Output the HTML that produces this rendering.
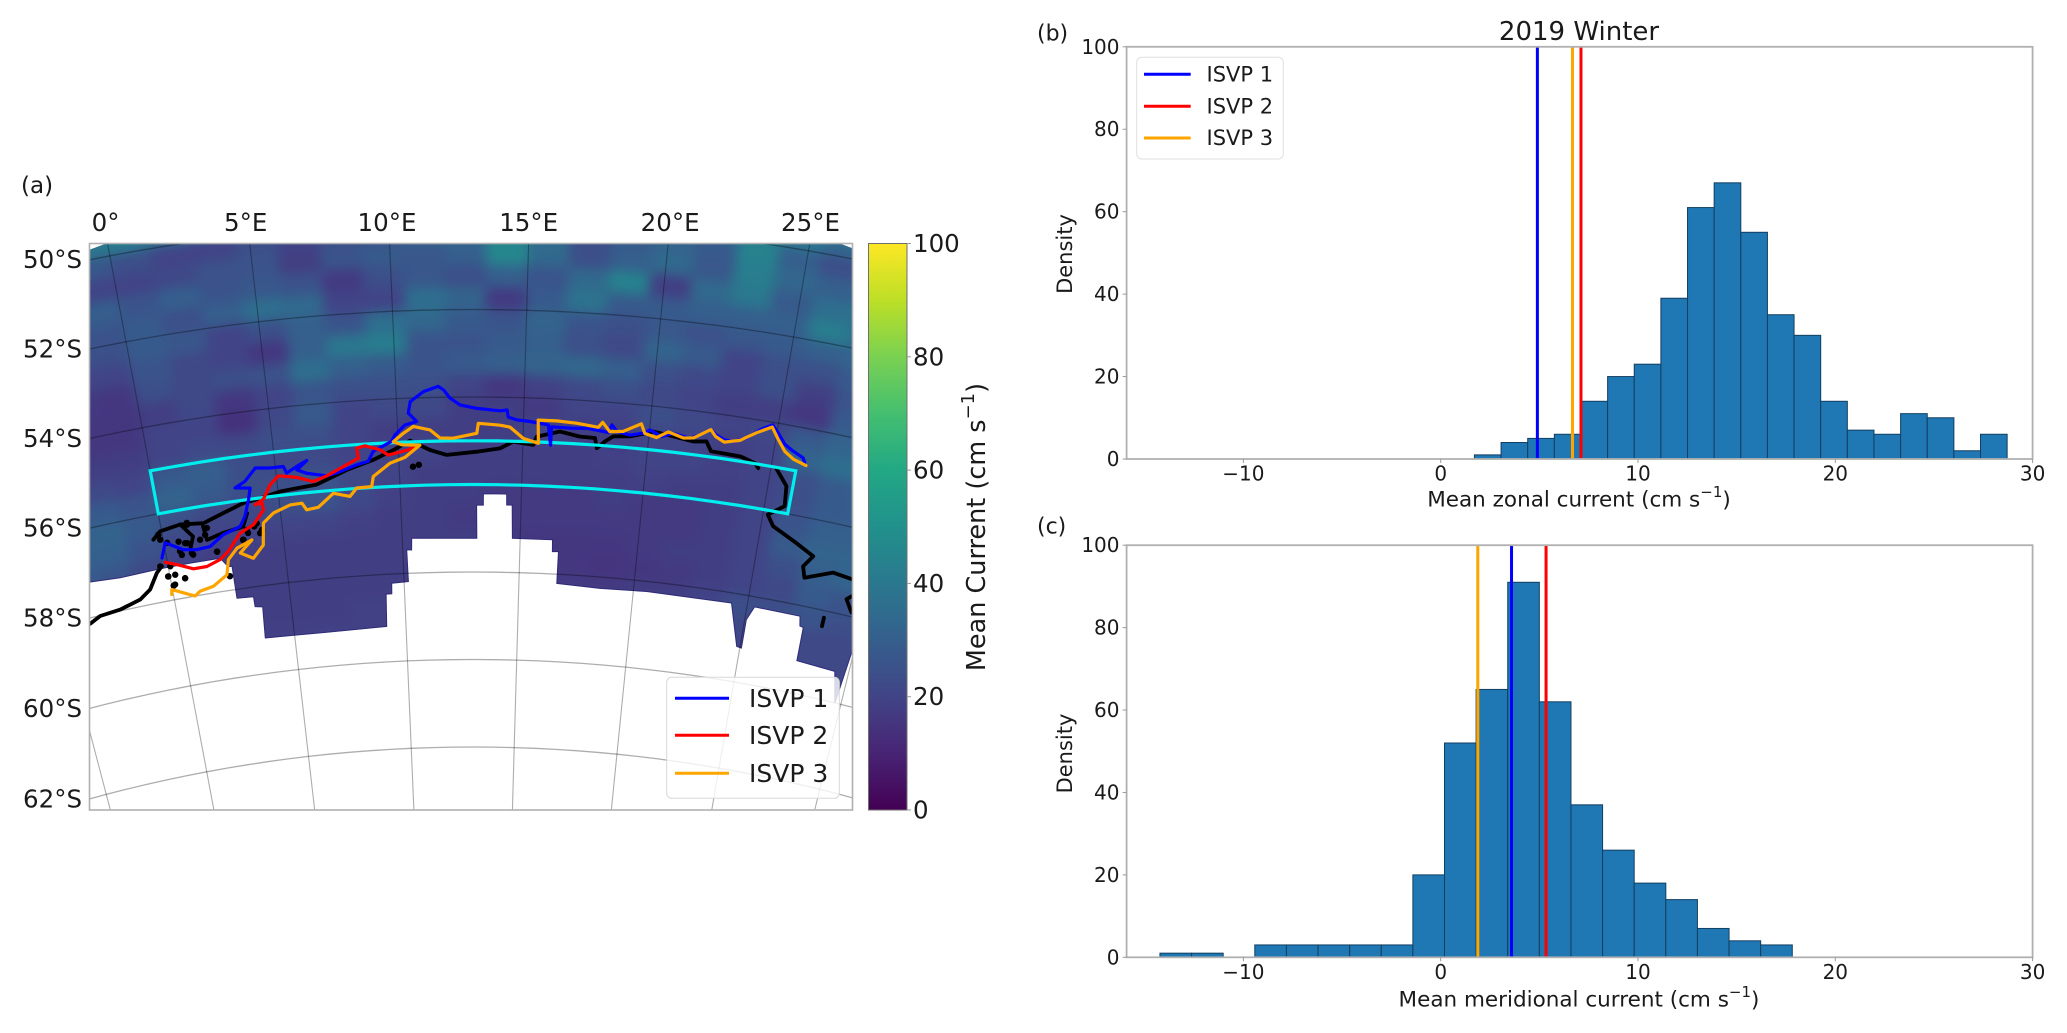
<!DOCTYPE html>
<html lang="en">
<head>
<meta charset="utf-8">
<title>2019 Winter mean currents</title>
<style>
html,body{margin:0;padding:0;background:#fff;}
svg{display:block;font-family:"DejaVu Sans","Liberation Sans",sans-serif;fill:#1a1a1a;}
</style>
</head>
<body>
<svg id="fig" xmlns="http://www.w3.org/2000/svg" width="2067" height="1033" viewBox="0 0 2067 1033">
<defs>
  <clipPath id="mapClip"><rect x="89.5" y="243.5" width="763" height="566.5"/></clipPath>
  <filter id="soft" x="-5%" y="-5%" width="110%" height="110%" color-interpolation-filters="sRGB"><feGaussianBlur stdDeviation="6"/></filter>
  <linearGradient id="viridisGrad" x1="0" y1="1" x2="0" y2="0"></linearGradient>
</defs>
<rect x="0" y="0" width="2067" height="1033" fill="#fff"/>

<!-- Panel a -->
<text x="21" y="186" font-size="23" dominant-baseline="central">(a)</text>
<g clip-path="url(#mapClip)">
  <g id="heat" filter="url(#soft)"></g>
  <g id="land"></g>
  <g id="grat"></g>
  <g id="tracks"></g>
</g>
<rect x="89.5" y="243.5" width="763" height="566.5" fill="none" stroke="#b0b0b0" stroke-width="1.6"/>
<g id="mapLabels" font-size="24.5"></g>
<g>
  <rect x="666.7" y="677.3" width="172.6" height="121" rx="5" fill="#fff" fill-opacity="0.8" stroke="#d8d8d8" stroke-width="1"/>
  <line x1="675" x2="729" y1="698.3" y2="698.3" stroke="#0000ff" stroke-width="3"/>
  <line x1="675" x2="729" y1="735.3" y2="735.3" stroke="#ff0000" stroke-width="3"/>
  <line x1="675" x2="729" y1="773.3" y2="773.3" stroke="#ffa500" stroke-width="3"/>
  <text x="749" y="698.3" font-size="25" dominant-baseline="central">ISVP 1</text>
  <text x="749" y="735.3" font-size="25" dominant-baseline="central">ISVP 2</text>
  <text x="749" y="773.3" font-size="25" dominant-baseline="central">ISVP 3</text>
</g>
<rect x="868.5" y="243.5" width="38.5" height="566.5" fill="url(#viridisGrad)" stroke="#6f6f6f" stroke-width="1"/>
<g id="cbTicks" font-size="24.5"></g>
<text transform="translate(977 527) rotate(-90)" font-size="25.5" text-anchor="middle" dominant-baseline="central">Mean Current (cm s<tspan dy="-9" font-size="18">−1</tspan><tspan dy="9">)</tspan></text>

<!-- Panel b -->
<text x="1037" y="34" font-size="22" dominant-baseline="central">(b)</text>
<text x="1579" y="32" font-size="26" text-anchor="middle" dominant-baseline="central">2019 Winter</text>
<g id="histB"></g>
<text x="1579" y="500" font-size="21.5" text-anchor="middle" dominant-baseline="central">Mean zonal current (cm s<tspan dy="-8" font-size="15">−1</tspan><tspan dy="8">)</tspan></text>
<text transform="translate(1065 254) rotate(-90)" font-size="21" text-anchor="middle" dominant-baseline="central">Density</text>
<g>
  <rect x="1136.7" y="57.3" width="146.6" height="101.7" rx="5" fill="#fff" fill-opacity="0.8" stroke="#e0e0e0" stroke-width="1"/>
  <line x1="1144" x2="1190.7" y1="74.3" y2="74.3" stroke="#0000ff" stroke-width="3"/>
  <line x1="1144" x2="1190.7" y1="106.3" y2="106.3" stroke="#ff0000" stroke-width="3"/>
  <line x1="1144" x2="1190.7" y1="138" y2="138" stroke="#ffa500" stroke-width="3"/>
  <text x="1206.5" y="74.3" font-size="21" dominant-baseline="central">ISVP 1</text>
  <text x="1206.5" y="106.3" font-size="21" dominant-baseline="central">ISVP 2</text>
  <text x="1206.5" y="138" font-size="21" dominant-baseline="central">ISVP 3</text>
</g>

<!-- Panel c -->
<text x="1037" y="527" font-size="22" dominant-baseline="central">(c)</text>
<g id="histC"></g>
<text x="1579" y="1000" font-size="21.5" text-anchor="middle" dominant-baseline="central">Mean meridional current (cm s<tspan dy="-8" font-size="15">−1</tspan><tspan dy="8">)</tspan></text>
<text transform="translate(1065 753.5) rotate(-90)" font-size="21" text-anchor="middle" dominant-baseline="central">Density</text>
</svg>

<script>
/* ---------- histogram data ---------- */
const zonalCounts = [1,4,5,6,14,20,23,39,61,67,55,35,30,14,7,6,11,10,2,6];
const zonalBinStart = 1.71;
const zonalBinWidth = 1.35;
const zonalMeans = [4.9,7.11,6.68];
const meridionalCounts = [1,1,0,3,3,3,3,3,20,52,65,91,62,37,26,18,14,7,4,3];
const meridionalBinStart = -14.23;
const meridionalBinWidth = 1.6025;
const meridionalMeans = [3.59,5.34,1.88];
const isvpNames = ['isvp-1','isvp-2','isvp-3'];
const isvpColors = ['#0000ff','#ff0000','#ffa500'];
const xTickValues = [-10,0,10,20,30];
const xTickLabels = ['−10','0','10','20','30'];
const yTickValues = [0,20,40,60,80,100];

/* ---------- map data ---------- */
const lonTicks = [0,5,10,15,20,25];
const lonTickLabels = ['0°','5°E','10°E','15°E','20°E','25°E'];
const latTicks = [50,52,54,56,58,60,62];
const latTickLabels = ['50°S','52°S','54°S','56°S','58°S','60°S','62°S'];
const graticuleLons = [-5,0,5,10,15,20,25,30];
const graticuleLats = [50,52,54,56,58,60,62];
const colorbarTicks = [0,20,40,60,80,100];
const viridisStops = ['#440154','#482475','#414487','#355f8d','#2a788e','#21918c','#22a884','#44bf70','#7ad151','#bddf26','#fde725'];

const heatLonStart = -4.5, heatLonStep = 1.5, heatLatStart = 49, heatLatStep = 0.5;
const currentGrid = [
[40,40,42,44,40,32,30,32,30,30,38,44,46,40,35,35,38,40,42,40,36,38,38,38],
[40,40,40,42,38,30,30,32,30,30,38,44,46,40,35,35,38,40,42,40,34,38,38,38],
[32,30,27,24,20,20,24,20,24,26,32,34,46,36,24,28,32,28,44,30,24,30,32,32],
[24,22,20,20,22,25,26,18,26,28,27,30,46,34,24,30,34,27,42,33,30,35,35,35],
[30,30,30,26,30,26,27,25,17,24,27,24,30,26,34,44,18,34,40,28,36,38,38,38],
[24,26,26,28,24,30,36,34,20,20,36,32,17,28,38,28,28,30,30,30,42,36,36,36],
[24,24,24,28,27,20,24,30,26,36,33,28,26,32,26,24,27,25,27,28,30,32,32,32],
[20,20,20,26,22,20,16,30,40,42,26,26,28,30,24,22,32,28,20,24,24,28,28,28],
[17,17,16,24,22,24,25,36,30,28,26,28,30,32,33,30,24,22,20,24,18,26,28,28],
[16,16,16,18,22,16,20,26,24,24,24,20,16,19,22,24,22,20,18,18,16,28,30,30],
[16,16,16,20,20,14,22,28,20,22,22,18,18,17,20,20,24,22,20,22,28,32,34,34],
[18,18,18,20,22,22,24,24,20,18,18,18,18,20,18,18,20,20,18,20,32,36,36,36],
[22,22,20,28,30,24,22,22,20,20,20,18,18,18,18,19,20,20,19,20,24,28,32,32],
[28,28,26,32,28,24,24,26,22,20,18,18,18,18,18,18,19,18,18,20,24,28,30,30],
[30,32,28,24,22,22,24,26,22,19,18,18,17,17,17,18,17,17,18,20,26,30,30,30],
[30,30,26,22,20,20,20,20,19,18,18,17,17,17,17,17,17,17,18,20,28,32,32,32],
[28,26,22,20,18,18,18,18,18,18,18,18,17,16,16,16,17,18,18,20,24,30,32,32],
[22,22,20,18,18,18,18,18,18,18,18,18,16,16,16,15,16,17,18,20,22,28,26,26],
[20,20,18,18,18,18,18,18,18,18,18,18,18,17,17,17,18,18,20,24,24,26,24,24],
[20,20,18,18,18,18,18,18,19,19,18,18,18,18,18,18,18,18,20,22,22,22,22,22],
[19,19,19,19,19,19,19,19,19,19,19,19,19,19,19,19,19,19,20,20,20,22,22,22],
[19,19,19,19,19,19,19,19,19,19,19,19,19,19,19,19,19,19,20,20,20,22,22,22]
];

const landOutline = [[-3.58,57.19],[-2.09,57.26],[-0.35,57.24],[0.95,57.24],[2.23,57.24],[2.52,57.46],[2.68,57.46],[2.69,58.2],[3.41,58.22],[3.42,58.45],[3.75,58.48],[3.68,59.19],[6.45,59.22],[9.14,59.19],[9.19,58.45],[9.44,58.45],[9.46,58.21],[10.19,58.19],[10.17,57.46],[10.38,57.47],[10.4,57.2],[13.16,57.23],[13.15,56.47],[13.43,56.47],[13.43,56.21],[14.39,56.21],[14.4,56.46],[14.63,56.46],[14.67,57.22],[16.37,57.22],[16.39,57.49],[16.65,57.48],[16.65,58.21],[18.54,58.26],[20.58,58.23],[24.31,58.23],[24.85,59.19],[25.07,59.21],[25.07,58.55],[25.33,58.23],[27.35,58.24],[27.43,58.46],[27.59,58.48],[27.62,59.25],[29.38,59.3],[29.72,60.0],[29.93,58.71],[30.65,58.61],[32.85,62.57],[-6.43,62.63]];
const cornerGapLeft = [[-0.6,49.6],[0.03,49.7],[-0.7,49.78]];
const cornerGapRight = [[26.6,49.6],[25.97,49.7],[26.7,49.78]];

const studyBoxLons = [0,26];
const studyBoxLats = [55,56];

const coastLowerLeft = [[-3.79,58.13],[-3.29,58.01],[-2.38,57.97],[-1.44,57.84],[-0.94,57.66],[-0.52,57.32],[-0.26,57.19]];
const coastMain = [[-0.4,56.56],[-0.06,56.4],[0.81,56.33],[1.77,56.39],[2.65,56.23],[3.52,56.07],[4.24,56.01],[5.08,55.91],[5.78,55.88],[6.6,55.84],[7.87,55.56],[8.97,55.37],[9.8,55.17],[10.48,54.97],[11.27,55.2],[11.94,55.32],[13.15,55.25],[14.08,55.17],[14.61,55.01],[15.42,55.07],[15.54,54.88],[16.46,54.74],[17.27,54.83],[17.87,54.84],[17.97,55.07],[18.28,54.9],[18.6,54.77],[19.26,54.74],[20.17,54.58],[20.97,54.64],[21.79,54.7],[22.3,54.66],[22.53,54.87],[23.73,54.89],[24.34,54.99],[24.5,55.09]];
const coastEast = [[25.2,55.02],[25.74,55.38],[25.82,55.84],[25.2,56.1],[25.5,56.34],[26.58,56.62],[27.38,56.84],[27.05,57.11],[27.2,57.36],[28.34,57.11],[29.2,57.16]];
const coastFarEast = [[29.38,57.52],[29.15,57.63],[29.49,57.9]];
const coastIslet = [[28.38,58.16],[28.38,58.36]];
const coastInletA = [[0.81,56.33],[1.25,56.65],[1.04,56.94]];
const coastInletB = [[1.73,56.46],[1.81,56.78],[2.51,56.68],[3.38,56.6],[3.62,56.31]];
const coastDots = [[1.09,56.36],[0.14,56.69],[1.13,57.06],[-0.08,57.45],[0.62,57.56],[0.15,57.66],[2.53,57.68],[2.15,57.08],[3.55,56.76],[3.84,56.63],[3.3,56.9],[4.15,56.73],[10.56,55.57],[10.8,55.53],[1.76,56.66],[0.97,56.78],[0.61,56.93],[-0.16,56.47],[-0.07,57.45],[0.23,57.44],[0.62,57.56],[0.08,57.68],[0.88,56.77],[0.62,56.71],[1.09,57.02],[0.66,57.02],[2.14,57.08],[3.32,56.9],[3.96,56.57],[4.05,56.8],[3.51,56.69],[1.88,56.51],[-0.12,56.59],[1.09,56.32],[1.52,56.75],[0.09,57.23],[-0.33,57.19]];

const isvp1Track = [[-0.19,57.01],[0.06,56.68],[0.76,56.91],[1.32,56.96],[1.89,56.94],[2.51,56.72],[3.26,56.59],[3.51,56.38],[3.75,56.01],[3.88,55.75],[3.27,55.7],[3.71,55.58],[4.19,55.31],[4.78,55.35],[5.32,55.35],[5.43,55.51],[5.87,55.38],[6.29,55.27],[5.85,55.46],[6.24,55.56],[7.04,55.66],[7.59,55.59],[8.28,55.46],[8.76,55.4],[8.98,55.18],[9.74,54.97],[9.89,54.83],[10.3,54.61],[10.77,54.54],[10.45,54.34],[10.54,54.08],[11.07,53.86],[11.65,53.75],[11.85,53.83],[12.1,54.02],[12.49,54.18],[13.15,54.26],[14.06,54.31],[14.34,54.29],[14.39,54.45],[14.73,54.51],[15.26,54.54],[15.99,54.6],[16.11,55.06],[16.12,54.64],[16.98,54.65],[17.51,54.63],[18.39,54.69],[18.5,54.51],[18.72,54.65],[19.25,54.71],[19.77,54.64],[20.03,54.55],[20.51,54.67],[20.95,54.57],[21.63,54.64],[22.0,54.53],[22.41,54.38],[22.63,54.48],[23.01,54.57],[23.35,54.58],[23.85,54.45],[24.37,54.2],[24.78,54.06],[25.05,54.22],[25.38,54.45],[25.75,54.57],[26.19,54.68],[26.29,54.78]];
const isvp2Track = [[-0.09,57.12],[0.38,57.22],[1.04,57.38],[1.62,57.38],[2.22,57.27],[2.62,57.11],[3.22,56.74],[3.82,56.59],[4.31,56.28],[4.28,56.12],[3.99,56.14],[4.36,56.04],[4.71,55.73],[5.08,55.55],[5.82,55.63],[6.47,55.76],[7.04,55.66],[7.74,55.48],[8.37,55.31],[8.33,55.08],[8.67,55.04],[9.26,55.15],[9.58,55.28],[10.4,55.18],[10.67,55.11]];
const isvp3Track = [[-0.07,57.87],[-0.03,57.76],[0.44,57.88],[0.91,58.0],[1.16,57.91],[1.76,57.85],[2.41,57.64],[2.57,57.3],[3.0,57.07],[3.67,56.93],[3.11,57.19],[3.63,57.35],[4.12,57.08],[4.24,56.58],[4.71,56.38],[5.43,56.24],[5.92,56.23],[6.09,56.39],[6.58,56.36],[7.25,56.07],[7.92,56.17],[8.22,55.99],[8.84,55.98],[8.93,55.75],[9.63,55.47],[10.25,55.35],[10.87,55.08],[10.14,55.06],[9.81,54.98],[10.22,54.8],[10.63,54.65],[11.29,54.74],[11.68,54.93],[12.21,54.94],[13.15,54.83],[13.21,54.6],[14.07,54.64],[14.47,54.68],[15.01,54.93],[15.62,55.03],[15.58,54.5],[16.31,54.5],[17.1,54.53],[17.97,54.59],[18.13,54.47],[18.44,54.67],[18.97,54.64],[19.66,54.43],[19.83,54.64],[20.31,54.71],[20.75,54.55],[21.37,54.65],[21.77,54.62],[22.41,54.38],[22.63,54.52],[23.0,54.62],[23.6,54.53],[24.2,54.3],[24.78,54.11],[25.07,54.35],[25.43,54.61],[25.83,54.75],[26.36,54.84]];

/* ---------- helpers ---------- */
const NS = 'http://www.w3.org/2000/svg';
function mk(tag, attrs, parent){
  const e = document.createElementNS(NS, tag);
  for(const k in attrs){ e.setAttribute(k, attrs[k]); }
  parent.appendChild(e);
  return e;
}
const hexRgb = h => [1,3,5].map(i => parseInt(h.substr(i,2),16));
function viridis(v){
  const t = Math.max(0, Math.min(1, v/100)) * (viridisStops.length-1);
  const i = Math.min(Math.floor(t), viridisStops.length-2), f = t-i;
  const a = hexRgb(viridisStops[i]), b = hexRgb(viridisStops[i+1]);
  return 'rgb(' + a.map((c,k) => Math.round(c+(b[k]-c)*f)).join(',') + ')';
}

/* map projection: lon (deg E), lat (deg S) to page position */
const coneApexX = 473, coneApexY = 2190, coneFactor = 0.818, centralLon = 13;
function radiusAt(lat){ return 1968 - 43.75*(lat-50); }
function mapX(lon,lat){ return coneApexX + radiusAt(lat)*Math.sin(coneFactor*(lon-centralLon)*Math.PI/180); }
function mapY(lon,lat){ return coneApexY - radiusAt(lat)*Math.cos(coneFactor*(lon-centralLon)*Math.PI/180); }
const toPoints = list => list.map(p => mapX(p[0],p[1]).toFixed(1)+','+mapY(p[0],p[1]).toFixed(1)).join(' ');

/* ---------- colourbar gradient ---------- */
const grad = document.getElementById('viridisGrad');
viridisStops.forEach((c,i) => {
  mk('stop', {offset: (i/(viridisStops.length-1)*100)+'%', 'stop-color': c}, grad);
});
const cbY = v => 810 - v/100*566.5;
const cbG = document.getElementById('cbTicks');
colorbarTicks.forEach(v => {
  const tick = mk('line', {x1:907, x2:911, y1:cbY(v), y2:cbY(v), stroke:'#9a9a9a', 'stroke-width':1}, cbG);
  
  
  const lab = mk('text', {x:913, y:cbY(v), 'dominant-baseline':'central'}, cbG);
  
  
  lab.textContent = String(v);
});

/* ---------- heatmap ---------- */
const heat = document.getElementById('heat');
currentGrid.forEach((row,j) => {
  row.forEach((v,i) => {
    const lo = heatLonStart + i*heatLonStep, la = heatLatStart + j*heatLatStep;
    const corners = [[lo,la],[lo+heatLonStep,la],[lo+heatLonStep,la+heatLatStep],[lo,la+heatLatStep]];
    const c = viridis(v);
    const cell = mk('polygon', {points: toPoints(corners), fill: c, stroke: c, 'stroke-width': 1.5}, heat);
    
    
  });
});

/* ---------- land mask ---------- */
const landG = document.getElementById('land');
const landPoly = mk('polygon', {points: toPoints(landOutline), fill:'#fff', stroke:'#2f2a78', 'stroke-width':1}, landG);


[cornerGapLeft, cornerGapRight].forEach(gap => {
  const g = mk('polygon', {points: toPoints(gap), fill:'#fff'}, landG);
  
  
});

/* ---------- graticule ---------- */
const gratG = document.getElementById('grat');
graticuleLats.forEach(la => {
  const pts = [];
  for(let lo = -12; lo <= 38; lo += 1){ pts.push([lo,la]); }
  const l = mk('polyline', {points: toPoints(pts), fill:'none', stroke:'#000', 'stroke-opacity':0.32, 'stroke-width':1.3}, gratG);
  
  
});
graticuleLons.forEach(lo => {
  const l = mk('polyline', {points: toPoints([[lo,48],[lo,64]]), fill:'none', stroke:'#000', 'stroke-opacity':0.32, 'stroke-width':1.1}, gratG);
  
  
});

/* ---------- coast, box, tracks ---------- */
const trackG = document.getElementById('tracks');
[coastLowerLeft, coastMain, coastEast, coastFarEast, coastIslet, coastInletA, coastInletB].forEach(seg => {
  const l = mk('polyline', {points: toPoints(seg), fill:'none', stroke:'#000', 'stroke-width':3.8, 'stroke-linejoin':'round', 'stroke-linecap':'round'}, trackG);
  
  
});
coastDots.forEach(p => {
  const d = mk('circle', {cx: mapX(p[0],p[1]), cy: mapY(p[0],p[1]), r: 3.2, fill:'#000'}, trackG);
  
  
});
const boxPts = [];
for(let lo = studyBoxLons[0]; lo <= studyBoxLons[1]; lo += 1){ boxPts.push([lo,studyBoxLats[0]]); }
for(let lo = studyBoxLons[1]; lo >= studyBoxLons[0]; lo -= 1){ boxPts.push([lo,studyBoxLats[1]]); }
const box = mk('polygon', {points: toPoints(boxPts), fill:'none', stroke:'#00eeee', 'stroke-width':3.2}, trackG);


[isvp1Track, isvp2Track, isvp3Track].forEach((t,i) => {
  const l = mk('polyline', {points: toPoints(t), fill:'none', stroke: isvpColors[i], 'stroke-width':3.2, 'stroke-linejoin':'round', 'stroke-linecap':'round'}, trackG);
  
  
});

/* ---------- map tick labels ---------- */
const labelsG = document.getElementById('mapLabels');
lonTicks.forEach((lo,i) => {
  const t = mk('text', {x: mapX(lo,49.6)-1, y: 222.5, 'text-anchor':'middle', 'dominant-baseline':'central'}, labelsG);
  
  
  t.textContent = lonTickLabels[i];
});
latTicks.forEach((la,i) => {
  /* latitude labels sit where the parallel meets the left frame */
  const r = radiusAt(la), dx = 89.5 - coneApexX;
  const yEdge = coneApexY - Math.sqrt(r*r - dx*dx);
  const t = mk('text', {x: 82, y: yEdge, 'text-anchor':'end', 'dominant-baseline':'central'}, labelsG);
  
  
  t.textContent = latTickLabels[i];
});

/* ---------- histograms ---------- */
function drawHist(group, top, bottom, counts, binStart, binWidth, means, prefix){
  const x = v => 1440.7 + 19.73*v;
  const y = v => bottom - v/100*(bottom-top);
  counts.forEach((c,i) => {
    if(c <= 0) return;
    const x0 = x(binStart + i*binWidth), x1 = x(binStart + (i+1)*binWidth);
    const b = mk('rect', {x:x0, y:y(c), width:x1-x0, height:y(0)-y(c), fill:'#1f77b4', stroke:'#123f60', 'stroke-width':1}, group);
    
    
  });
  means.forEach((m,i) => {
    const l = mk('line', {x1:x(m), x2:x(m), y1:top, y2:bottom, stroke:isvpColors[i], 'stroke-width':3}, group);
    
    
  });
  const frame = mk('rect', {x:1126.6, y:top, width:906, height:bottom-top, fill:'none', stroke:'#b0b0b0', 'stroke-width':1.8}, group);
  
  
  xTickValues.forEach((v,i) => {
    const tm = mk('line', {x1:x(v), x2:x(v), y1:bottom, y2:bottom+4, stroke:'#9a9a9a', 'stroke-width':1}, group);
    
    
    const t = mk('text', {x:x(v), y:bottom+14.5, 'font-size':20, 'text-anchor':'middle', 'dominant-baseline':'central'}, group);
    
    
    t.textContent = xTickLabels[i];
  });
  yTickValues.forEach(v => {
    const tm = mk('line', {x1:1122.6, x2:1126.6, y1:y(v), y2:y(v), stroke:'#9a9a9a', 'stroke-width':1}, group);
    
    
    const t = mk('text', {x:1119.5, y:y(v), 'font-size':20, 'text-anchor':'end', 'dominant-baseline':'central'}, group);
    
    
    t.textContent = String(v);
  });
}
drawHist(document.getElementById('histB'), 46.8, 459, zonalCounts, zonalBinStart, zonalBinWidth, zonalMeans, 'zonal');
drawHist(document.getElementById('histC'), 545.2, 957.3, meridionalCounts, meridionalBinStart, meridionalBinWidth, meridionalMeans, 'meridional');
</script>
</body>
</html>
